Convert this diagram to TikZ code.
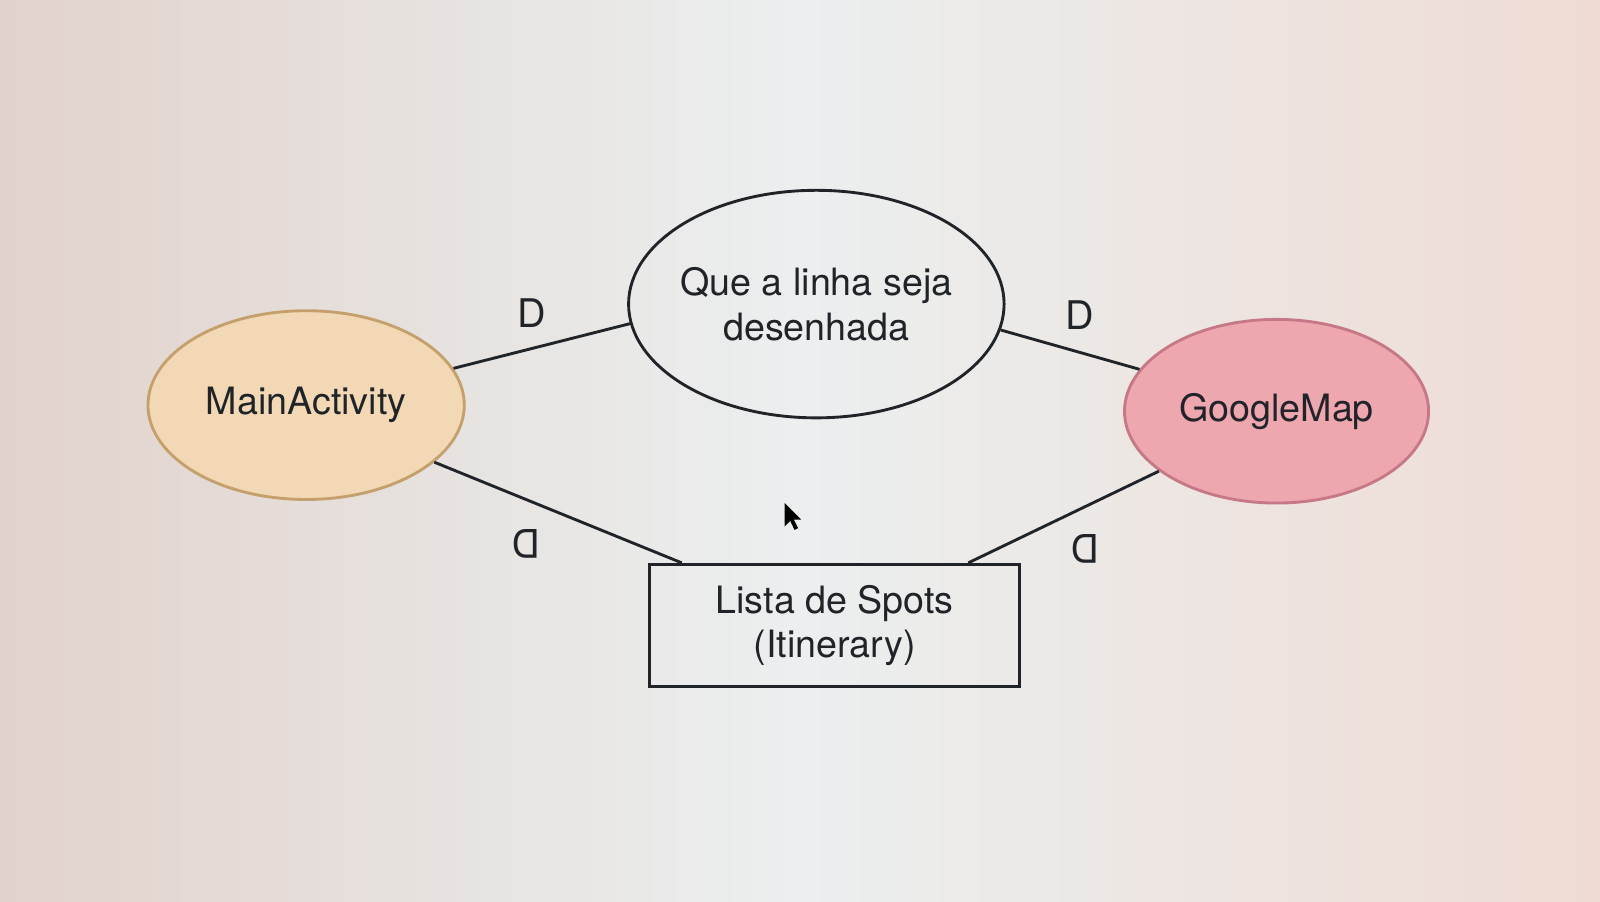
\documentclass[tikz,border=0pt]{standalone}
\usepackage{fontspec}
\setmainfont{TeX Gyre Heros}
\usetikzlibrary{shapes.geometric}
\definecolor{bgleft}{HTML}{E2D2CC}
\definecolor{bgmid}{HTML}{EBEFEF}
\definecolor{bgright}{HTML}{EFDBD4}
\definecolor{mainfill}{HTML}{F2D8B4}
\definecolor{maindraw}{HTML}{C4A06C}
\definecolor{mapfill}{HTML}{EEA6AF}
\definecolor{mapdraw}{HTML}{C67886}
\definecolor{ink}{HTML}{202428}

\begin{document}
\begin{tikzpicture}
[-,line width=0.8pt,draw=ink,%
  every node/.style={inner sep=0pt,text=ink,font=\fontsize{10.5}{12.5}\selectfont,align=center},%
  actor/.style={ellipse,draw,minimum width=3.1cm,minimum height=1.85cm},%
  label/.style={font=\fontsize{11}{13}\selectfont}]
\shade[left color=bgleft,right color=bgright,middle color=bgmid] (0,0) rectangle (15.68,8.83);
\useasboundingbox (0,0) rectangle (15.68,8.83);
\node[actor,fill=mainfill,draw=maindraw] (main) at (3.00,4.86) {MainActivity};
\node[actor,draw=ink,inner xsep=-3pt,minimum width=3.68cm,minimum height=2.23cm] (goal) at (8.00,5.85) {Que a linha seja\\desenhada};
\node[actor,fill=mapfill,draw=mapdraw,minimum width=2.98cm,minimum height=1.80cm] (map) at (12.51,4.80) {GoogleMap};
\node[draw=ink,rectangle,minimum width=3.63cm,minimum height=1.20cm] (list) at (8.18,2.70) {Lista de Spots\\(Itinerary)};
\coordinate (listl) at ([xshift=0.33cm]list.north west);
\coordinate (listr) at ([xshift=-0.52cm]list.north east);
\draw (main.14) -- (goal.186);
\draw (goal.-8) -- (map.163);
\draw (main.-24) -- (listl);
\draw (map.207) -- (listr);
\node[label] (d1) at (5.21,5.76) {D};
\node[label] (d2) at (10.58,5.74) {D};
\node[label,rotate=180] (d3) at (5.16,3.50) {D};
\node[label,rotate=180] (d4) at (10.64,3.45) {D};
% pointer
\fill[black,shift={(7.69,3.90)},scale=0.012]
  (0,0) -- (0,-19) -- (4.5,-14.5) -- (8,-22) -- (11,-20.5) -- (7.5,-13.5) -- (13.5,-13.5) -- cycle;
\end{tikzpicture}
\end{document}
